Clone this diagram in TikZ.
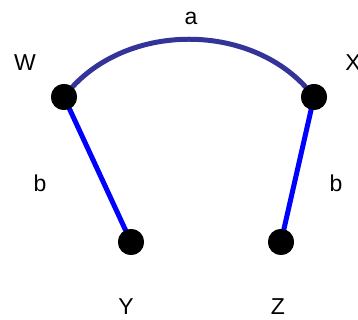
\documentclass[tikz,border=0pt]{standalone}
\usepackage{fontspec}
\setmainfont{Liberation Sans}
\usepackage{tikz}
\usetikzlibrary{positioning}
\definecolor{arcblue}{RGB}{51,51,153}
\definecolor{edgeblue}{RGB}{0,0,255}

\begin{document}
\begin{tikzpicture}[x=1pt, y=1pt,
    vertex/.style={circle, fill=black, inner sep=0pt, minimum size=26pt},
    lbl/.style={font=\fontsize{23}{27}\selectfont, inner sep=0pt},
    edge/.style={line width=5pt, edgeblue},
    arcedge/.style={line width=5pt, arcblue}
]
    \useasboundingbox (0,0) rectangle (358,320);

    \node[vertex] (w) at (64,223) {};
    \node[vertex] (x) at (314,223) {};
    \node[vertex] (y) at (131,78) {};
    \node[vertex] (z) at (281,78) {};

    \draw[arcedge] (w.center) .. controls (122,300) and (256,300) .. (x.center);
    \draw[edge] (w.center) -- (y.center);
    \draw[edge] (x.center) -- (z.center);

    % redraw dots above the lines
    \foreach \v in {w,x,y,z}
        \fill (\v) circle (13pt);

    \node[lbl] (wl) at (25,257) {W};
    \node[lbl] (xl) at (353,257) {X};
    \node[lbl] (al) at (191,302) {a};
    \node[lbl] (bl) at (40,137) {b};
    \node[lbl] (br) at (336,137) {b};
    \node[lbl] (yl) at (126,13) {Y};
    \node[lbl] (zl) at (278,13) {Z};
\end{tikzpicture}
\end{document}
